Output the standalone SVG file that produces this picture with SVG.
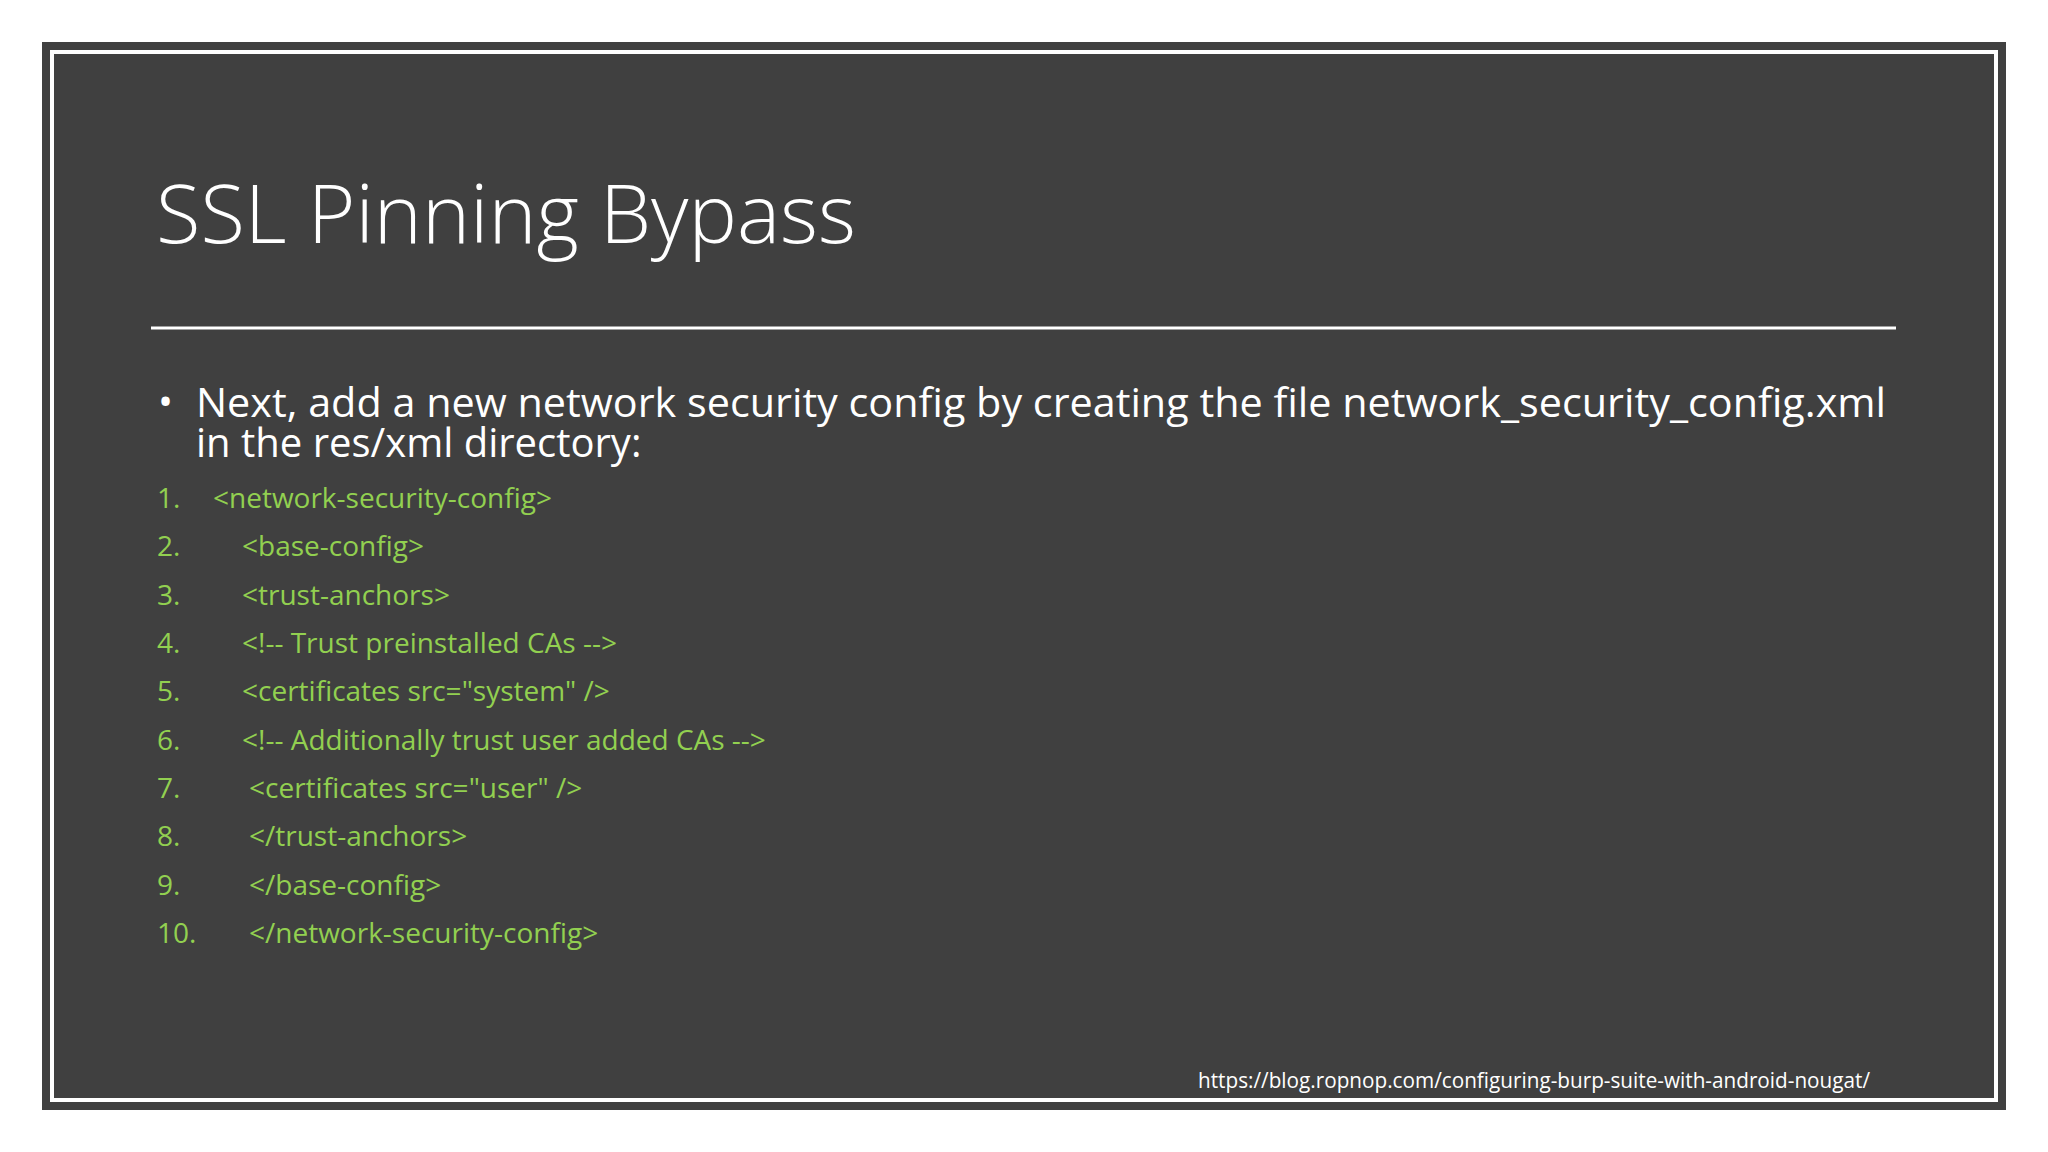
<svg xmlns="http://www.w3.org/2000/svg" width="2048" height="1152" viewBox="0 0 2048 1152">
<style>
.t{font-family:"Open Sans","Noto Sans",sans-serif;fill:#ffffff}
.c{font-family:"Open Sans","Noto Sans",sans-serif;fill:#92d050;font-size:28px}
</style>
<rect width="2048" height="1152" fill="#ffffff"/>
<rect x="44" y="44" width="1960" height="1064" fill="#404040" stroke="#404040" stroke-width="4"/>
<rect x="52" y="52" width="1944" height="1048" fill="#404040" stroke="#ffffff" stroke-width="4"/>
<g id="title"><text class="t" x="156" y="243" font-size="82" font-weight="300" textLength="700" lengthAdjust="spacingAndGlyphs">SSL Pinning Bypass</text></g>
<line x1="151" y1="328" x2="1896" y2="328" stroke="#ffffff" stroke-width="3"/>
<g id="bullet">
<text class="t" x="158" y="416" font-size="40">•</text>
<text class="t" x="196" y="417" font-size="40" textLength="1690" lengthAdjust="spacingAndGlyphs">Next, add a new network security config by creating the file network_security_config.xml</text>
<text class="t" x="196" y="457" font-size="40">in the res/xml directory:</text>
</g>
<g id="code">
<text class="c" x="157" y="508">1.</text><text class="c" x="213" y="508">&lt;network-security-config&gt;</text>
<text class="c" x="157" y="556">2.</text><text class="c" x="242" y="556">&lt;base-config&gt;</text>
<text class="c" x="157" y="605">3.</text><text class="c" x="242" y="605">&lt;trust-anchors&gt;</text>
<text class="c" x="157" y="653">4.</text><text class="c" x="242" y="653">&lt;!-- Trust preinstalled CAs --&gt;</text>
<text class="c" x="157" y="701">5.</text><text class="c" x="242" y="701">&lt;certificates src="system" /&gt;</text>
<text class="c" x="157" y="750">6.</text><text class="c" x="242" y="750">&lt;!-- Additionally trust user added CAs --&gt;</text>
<text class="c" x="157" y="798">7.</text><text class="c" x="249" y="798">&lt;certificates src="user" /&gt;</text>
<text class="c" x="157" y="846">8.</text><text class="c" x="249" y="846">&lt;/trust-anchors&gt;</text>
<text class="c" x="157" y="895">9.</text><text class="c" x="249" y="895">&lt;/base-config&gt;</text>
<text class="c" x="157" y="943">10.</text><text class="c" x="249" y="943">&lt;/network-security-config&gt;</text>
</g>
<g id="url"><text class="t" x="1198" y="1088" font-size="22" textLength="672" lengthAdjust="spacingAndGlyphs">https://blog.ropnop.com/configuring-burp-suite-with-android-nougat/</text></g>
</svg>
